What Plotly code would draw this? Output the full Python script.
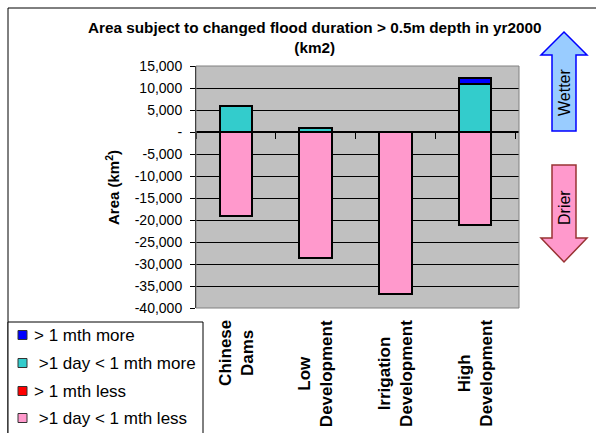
import plotly.graph_objects as go

# ---- data -----------------------------------------------------------------
categories = ["Chinese Dams", "Low Development", "Irrigation Development", "High Development"]
category_labels = ["Chinese<br>Dams", "Low<br>Development", "Irrigation<br>Development", "High<br>Development"]

series_names = ["> 1 mth more", "\u00a0>1 day < 1 mth more", "> 1 mth less", "\u00a0>1 day < 1 mth less"]
series_colors = ["#0000FF", "#33CCCC", "#FF0000", "#FF99CC"]

more_month = [0, 0, 0, 1400]              # > 1 mth more
more_day = [5800, 1000, 0, 10900]         # >1 day < 1 mth more
less_month = [0, 0, 0, 0]                 # > 1 mth less
less_day = [-19000, -28600, -36900, -21100]  # >1 day < 1 mth less

tick_values = [15000, 10000, 5000, 0, -5000, -10000, -15000, -20000,
               -25000, -30000, -35000, -40000]
tick_labels = ["15,000", "10,000", "5,000", "-", "-5,000", "-10,000", "-15,000",
               "-20,000", "-25,000", "-30,000", "-35,000", "-40,000"]

# ---- geometry -------------------------------------------------------------
W, H = 596, 433
L, R, T, B = 196, 519, 66, 308
Y_MIN, Y_MAX = -40000, 15000
X_RANGE = [-0.5, 3.55]
FONT = "Liberation Sans, Arial, sans-serif"


def px(x):
    return (x - L) / (R - L)


def py(y):
    return (B - y) / (B - T)


fig = go.Figure()

# stacking order: positives grow up from zero, negatives grow down from zero
stack = [
    (more_day, 1),
    (more_month, 0),
    (less_day, 3),
    (less_month, 2),
]
for values, idx in stack:
    fig.add_trace(go.Bar(
        x=categories, y=values, name=series_names[idx],
        marker=dict(color=series_colors[idx], line=dict(color="#000000", width=2)),
        width=0.41, showlegend=False,
    ))

zero_pos = (0 - Y_MIN) / (Y_MAX - Y_MIN)

shapes = []
annotations = []

# outer chart border
shapes.append(dict(type="rect", xref="paper", yref="paper",
                   x0=px(8), x1=px(640), y0=py(8), y1=py(470),
                   line=dict(color="#000000", width=1), layer="below"))

# plot-area frame
shapes.append(dict(type="rect", xref="paper", yref="paper",
                   x0=0, x1=1, y0=0, y1=1,
                   line=dict(color="#808080", width=1), layer="above"))

# legend box with swatches
shapes.append(dict(type="rect", xref="paper", yref="paper",
                   x0=px(8), x1=px(203), y0=py(322), y1=py(470),
                   line=dict(color="#000000", width=1), fillcolor="#FFFFFF"))
legend_rows = [335, 363, 391, 418]
for name, color, yc in zip(series_names, series_colors, legend_rows):
    shapes.append(dict(type="rect", xref="paper", yref="paper",
                       x0=px(18), x1=px(27), y0=py(yc + 4.5), y1=py(yc - 4.5),
                       line=dict(color="#333333", width=1), fillcolor=color))
    annotations.append(dict(text=name, xref="paper", yref="paper",
                            x=px(32), y=py(yc), xanchor="left", yanchor="middle",
                            showarrow=False,
                            font=dict(family=FONT, size=17, color="#000000")))

# wetter / drier arrows
up = [(564, 32), (587, 55), (576, 55), (576, 131), (552, 131), (552, 55), (541, 55)]
down = [(552, 165), (576, 165), (576, 238), (587, 238), (564, 262), (541, 238), (552, 238)]


def path(points):
    return "M " + " L ".join(f"{px(a):.5f},{py(b):.5f}" for a, b in points) + " Z"


shapes.append(dict(type="path", xref="paper", yref="paper", path=path(up),
                   fillcolor="#99CCFF", line=dict(color="#0000FF", width=1.5)))
shapes.append(dict(type="path", xref="paper", yref="paper", path=path(down),
                   fillcolor="#FF99CC", line=dict(color="#993333", width=1.5)))
annotations.append(dict(text="Wetter", xref="paper", yref="paper", x=px(564), y=py(92),
                        xanchor="center", yanchor="middle",
                        textangle=-90, showarrow=False,
                        font=dict(family=FONT, size=16, color="#000000")))
annotations.append(dict(text="Drier", xref="paper", yref="paper", x=px(564), y=py(208),
                        xanchor="center", yanchor="middle",
                        textangle=-90, showarrow=False,
                        font=dict(family=FONT, size=16, color="#000000")))

# title
annotations.append(dict(
    text="<b>Area subject to changed flood duration > 0.5m depth in yr2000<br>(km2)</b>",
    xref="paper", yref="paper", x=px(314), y=py(38), xanchor="center", yanchor="middle",
    showarrow=False, font=dict(family=FONT, size=15.3, color="#000000")))

# y-axis title
annotations.append(dict(text="<b>Area (km<sup>2</sup>)</b>", xref="paper", yref="paper",
                        x=px(112), y=py(188), xanchor="center", yanchor="middle",
                        textangle=-90, showarrow=False,
                        font=dict(family=FONT, size=15, color="#000000")))

# category labels below the plot
for cat, lab in zip(categories, category_labels):
    annotations.append(dict(text=f"<b>{lab}</b>", xref="x", yref="paper",
                            x=cat, y=py(318), xanchor="center", yanchor="top",
                            textangle=-90, showarrow=False,
                            font=dict(family=FONT, size=17, color="#000000")))

fig.update_layout(
    width=W, height=H, autosize=False,
    margin=dict(l=L, r=W - R, t=T, b=H - B, pad=0),
    paper_bgcolor="#FFFFFF", plot_bgcolor="#C0C0C0",
    barmode="relative", bargap=0,
    showlegend=False,
    font=dict(family=FONT, color="#000000"),
    xaxis=dict(
        type="category", categoryorder="array", categoryarray=categories,
        range=X_RANGE, anchor="free", position=zero_pos,
        showline=True, linecolor="#000000", linewidth=2,
        ticks="outside", tickson="boundaries", ticklen=6, tickcolor="#000000",
        showticklabels=False, showgrid=False, zeroline=False,
    ),
    xaxis2=dict(
        overlaying="x", anchor="y", side="bottom", range=X_RANGE,
        showline=True, linecolor="#000000", linewidth=1,
        ticks="outside", tickvals=[0.5, 1.5, 2.5, 3.5], ticklen=6, tickcolor="#000000",
        showticklabels=False, showgrid=False, zeroline=False,
    ),
    yaxis=dict(
        range=[Y_MIN, Y_MAX], tickvals=tick_values, ticktext=tick_labels,
        showline=True, linecolor="#000000", linewidth=1,
        ticks="outside", ticklen=5, tickcolor="#000000",
        showgrid=True, gridcolor="#000000", gridwidth=1, zeroline=False,
        tickfont=dict(family=FONT, size=14, color="#000000"),
        ticklabelstandoff=5,
    ),
    shapes=shapes,
    annotations=annotations,
)

fig.write_html("out.html")
